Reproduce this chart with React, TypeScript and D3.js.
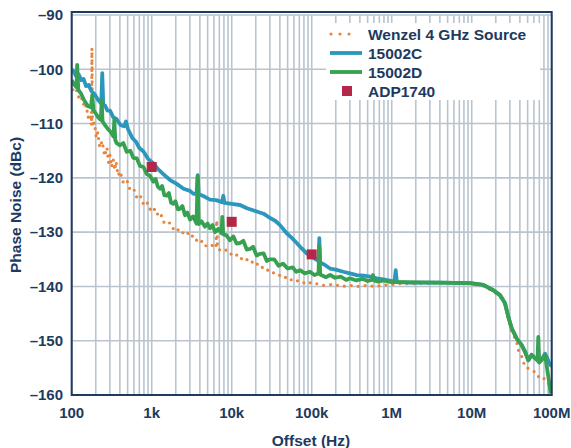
import React from 'react';
import * as d3 from 'd3';

const xTicks = [100, 1e3, 1e4, 1e5, 1e6, 1e7, 1e8];
const xTickLabels = ['100', '1k', '10k', '100k', '1M', '10M', '100M'];
const yTicks = [-90, -100, -110, -120, -130, -140, -150, -160];
const yTickLabels = ['–90', '–100', '–110', '–120', '–130', '–140', '–150', '–160'];

const seriesNames = ['Wenzel 4 GHz Source', '15002C', '15002D', 'ADP1740'];

const wenzel: [number, number][] = [
  [100, -102.5], [104, -103.8], [109, -104.4], [116, -103.9], [126, -105.8], [135, -105.3],
  [145, -107.2], [152, -106.6], [160, -108.9], [168, -108.2], [177, -110.3], [179, -96.1],
  [182, -110.6], [192, -109.8], [203, -112.6], [212, -111.6], [224, -114.4], [240, -113.2],
  [258, -116.0], [276, -114.4], [288, -117.2], [301, -115.8], [315, -118.0], [331, -116.6],
  [345, -118.6], [358, -117.0], [380, -119.6], [402, -118.8], [440, -120.8], [487, -120.3],
  [530, -122.0], [589, -121.8], [650, -123.6], [714, -123.1], [790, -124.9], [866, -124.4],
  [950, -125.8], [1047, -125.3], [1150, -126.8], [1270, -126.3], [1450, -128.5], [1693, -128.3],
  [1950, -129.9], [2258, -129.4], [2600, -130.6], [3011, -130.0], [3500, -131.6], [4016, -131.2],
  [4600, -132.6], [5354, -132.2], [6364, -132.9], [6494, -127.8], [6645, -133], [7140, -133.3],
  [8200, -133.1], [9525, -134.1], [11000, -133.8], [12700, -135.0], [14600, -134.6], [16930, -135.7],
  [19500, -135.3], [22580, -136.6], [26000, -136.4], [30110, -137.5], [36000, -137.5], [44160, -138.5],
  [50000, -138.2], [58880, -139.1], [70000, -138.9], [86600, -139.6], [100000, -139.2], [115500, -139.5],
  [140000, -139.8], [186200, -139.6], [240000, -140.0], [301100, -139.8], [390000, -140.0],
  [487000, -139.8], [620000, -140.0], [785200, -139.8], [1270000, -139.5], [4016000, -139.4],
  [9525000, -139.5], [13960000, -139.9], [18620000, -140.9], [22580000, -141.8], [26080000, -143.3],
  [28680000, -146], [31620000, -148.2], [33110000, -148.9], [36520000, -150.2], [38240000, -151.7],
  [42170000, -152.9], [46370000, -154.8], [56230000, -155.4], [64940000, -156], [68000000, -156.6],
  [78520000, -156.6], [82460000, -157.5], [89900000, -157.8], [97720000, -158.5],
];

const c15002C: [number, number][] = [
  [100, -100], [106, -100.4], [113, -101.2], [122, -100.9], [132, -102.0], [141, -101.8],
  [151, -103.1], [163, -102.9], [176, -104.0], [194, -104.6], [213, -105.6], [234, -106.3],
  [241, -100.7], [248, -106.6], [261, -106.7], [280, -107.6], [301, -107.6], [330, -108.8],
  [365, -109.2], [410, -110.3], [451, -110.5], [477, -109.6], [505, -111.0], [569, -112.6],
  [640, -113.4], [700, -114.5], [785, -115.1], [900, -116.5], [1047, -117.3], [1200, -118.4],
  [1396, -119.3], [1700, -120.4], [2053, -121.1], [2500, -122.0], [3011, -122.4], [3300, -122.9],
  [3631, -123], [3758, -119.5], [3879, -123], [4500, -123.4], [5354, -124], [6400, -124.1],
  [7564, -124.5], [7852, -123.3], [8128, -124.6], [10000, -124.8], [12700, -125], [15500, -125.6],
  [20530, -126.2], [25000, -126.6], [30110, -127.4], [35000, -127.9], [40170, -128.7], [48700, -130.2],
  [56000, -131.0], [64940, -132], [75000, -133.0], [86600, -133.9], [100000, -134.5], [115500, -135.1],
  [121600, -135.3], [124500, -131.1], [127700, -135.6], [145000, -136.0], [169300, -136.7],
  [200000, -136.9], [248300, -137.3], [300000, -137.6], [365200, -137.9], [450000, -138.0],
  [535500, -138.2], [650000, -138.5], [785200, -138.7], [1084000, -139.1], [1122000, -137],
  [1161000, -139.2], [1693000, -139.3], [4016000, -139.3], [9525000, -139.4], [13960000, -139.7],
  [18620000, -140.7], [22580000, -141.6], [26080000, -143.1], [28680000, -145.6], [31620000, -147.7],
  [36520000, -149.6], [42170000, -150.8], [46370000, -152], [51000000, -153.6], [56230000, -152.6],
  [61840000, -153.2], [66450000, -153.6], [69800000, -154], [74990000, -153.5], [82460000, -152.4],
  [88100000, -153.2], [93330000, -154.2], [100000000, -154.7],
];

const c15002D: [number, number][] = [
  [100, -102], [107, -102.8], [115, -103.3], [117, -99.2], [121, -103.8], [131, -104.5],
  [143, -105.7], [160, -106.8], [174, -107], [181, -104.7], [187, -107.5], [201, -108.2],
  [213, -108.8], [231, -109.3], [237, -105.7], [243, -109.6], [261, -110.3], [284, -111],
  [310, -111.6], [333, -112.4], [341, -109.2], [350, -113], [365, -113.6], [402, -114],
  [442, -113.6], [487, -115.2], [540, -115.0], [589, -116.3], [650, -116.4], [714, -117.8],
  [790, -118.0], [866, -119.3], [950, -119.6], [1047, -120.7], [1120, -120.2], [1190, -121.6],
  [1270, -122.0], [1350, -121.5], [1440, -123.2], [1540, -123.3], [1640, -122.8], [1750, -124.6],
  [1862, -124.8], [1980, -124.3], [2120, -125.8], [2258, -125.7], [2420, -125.2], [2608, -126.9],
  [2800, -126.4], [3011, -127.7], [3300, -127.1], [3631, -128.4], [3758, -119.7], [3879, -128.5],
  [4200, -128.0], [4637, -129.0], [5000, -128.4], [5354, -129.3], [5760, -128.7], [6184, -130.0],
  [6800, -129.4], [7458, -130.2], [7631, -127.2], [7831, -130.4], [8600, -130.6], [9525, -131.5],
  [10500, -130.8], [11500, -132.1], [12700, -132.0], [14000, -131.6], [15400, -133.2], [16930, -133.1],
  [18500, -132.7], [20500, -134.3], [22580, -134.0], [25000, -133.9], [27500, -135.3], [30110, -135.0],
  [34000, -135.0], [38500, -136.2], [43780, -135.8], [50000, -136.7], [58000, -136.5], [64000, -137.3],
  [71420, -137.0], [82000, -137.6], [95000, -137.3], [108000, -137.9], [121600, -137.6], [124500, -132.6],
  [127700, -137.8], [150000, -138.3], [170000, -137.9], [195600, -138.4], [230000, -138.2],
  [270000, -138.8], [301100, -138.5], [360000, -138.9], [430000, -138.6], [500000, -139.0],
  [567200, -138.8], [583800, -137.9], [600800, -138.9], [680000, -139.1], [778600, -138.9],
  [1000000, -139.2], [1270000, -139.2], [4016000, -139.3], [9525000, -139.4], [13960000, -139.7],
  [18620000, -140.7], [22580000, -141.6], [26080000, -143.1], [28680000, -145.6], [31620000, -147.7],
  [36520000, -149.6], [42170000, -150.8], [46370000, -152], [51000000, -153.6], [56230000, -152.6],
  [61840000, -153.2], [66450000, -153.6], [68000000, -149.3], [69800000, -154], [74990000, -153.5],
  [82460000, -152.6], [88100000, -155.4], [93330000, -157.8], [97150000, -159.7],
];

const adp1740: [number, number][] = [[1000, -118], [10000, -128.1], [100000, -134.1]];

const W = 571;
const H = 448;
const PL = 71.7, PR = 551.7, PT = 15, PB = 395;
const NAVY = '#1d3a5f';
const GRID = '#b9c4cf';
const ORANGE = '#e8843c';
const BLUE = '#2c97bd';
const GREEN = '#36a151';
const RED = '#b32848';
const FONT = '"Liberation Sans", Arial, Helvetica, sans-serif';

export default function App() {
  const x = d3.scaleLog().domain([100, 1e8]).range([PL, PR]);
  const y = d3.scaleLinear().domain([-160, -90]).range([PB, PT]);
  const line = d3.line<[number, number]>().x(d => x(d[0])).y(d => y(d[1]));

  const minor: number[] = [];
  for (let d = 100; d < 1e8; d *= 10) for (let k = 1; k <= 9; k++) minor.push(k * d);
  minor.push(1e8);

  const legendY = [34, 53, 72, 91];

  return (
    <svg width={W} height={H} style={{ position: 'absolute', left: 0, top: 0, background: '#fff' }} fontFamily={FONT}>
      <defs>
        <clipPath id="plot">
          <rect x={PL} y={PT - 3} width={PR - PL} height={PB - PT + 3} />
        </clipPath>
      </defs>
      {minor.map((v, i) => (
        <line key={'v' + i} x1={x(v)} x2={x(v)} y1={PT} y2={PB} stroke={GRID} strokeWidth={1.6} />
      ))}
      {yTicks.map((v, i) => (
        <line key={'h' + i} x1={PL} x2={PR} y1={y(v)} y2={y(v)} stroke={GRID} strokeWidth={1.6} />
      ))}
      <g clipPath="url(#plot)" fill="none" strokeLinejoin="round">
        <path d={line(wenzel) || ''} stroke={ORANGE} strokeWidth={3.2} strokeLinecap="round" strokeDasharray="0 7" />
        <path d={line(c15002C) || ''} stroke={BLUE} strokeWidth={3.8} />
        <path d={line(c15002D) || ''} stroke={GREEN} strokeWidth={3.8} />
      </g>
      {adp1740.map((d, i) => (
        <rect key={'m' + i} x={x(d[0]) - 5} y={y(d[1]) - 5} width={10} height={10} fill={RED} />
      ))}
      <rect x={326} y={23} width={214} height={77} fill="#fff" />
      <line x1={331} x2={358} y1={legendY[0]} y2={legendY[0]} stroke={ORANGE} strokeWidth={3.2} strokeLinecap="round" strokeDasharray="0 9" />
      <line x1={330} x2={362} y1={legendY[1]} y2={legendY[1]} stroke={BLUE} strokeWidth={3.8} />
      <line x1={330} x2={362} y1={legendY[2]} y2={legendY[2]} stroke={GREEN} strokeWidth={3.8} />
      <rect x={342} y={legendY[3] - 5} width={10} height={10} fill={RED} />
      {seriesNames.map((s, i) => (
        <text key={'l' + i} x={368} y={legendY[i] + 5.5} fontSize={15.5} fontWeight="bold" fill={NAVY}>{s}</text>
      ))}
      <rect x={PL} y={PT - 3} width={PR - PL} height={PB - PT + 3} fill="none" stroke={NAVY} strokeWidth={2} />
      {yTicks.map((v, i) => (
        <text key={'yt' + i} x={63} y={y(v) + 5.3} textAnchor="end" fontSize={15} fontWeight="bold" fill={NAVY}>{yTickLabels[i]}</text>
      ))}
      {xTicks.map((v, i) => (
        <text key={'xt' + i} x={x(v)} y={418} textAnchor="middle" fontSize={15} fontWeight="bold" fill={NAVY}>{xTickLabels[i]}</text>
      ))}
      <text x={311} y={446} textAnchor="middle" fontSize={15.5} fontWeight="bold" fill={NAVY}>Offset (Hz)</text>
      <text transform={`translate(21,205) rotate(-90)`} textAnchor="middle" fontSize={15.5} fontWeight="bold" fill={NAVY}>Phase Noise (dBc)</text>
    </svg>
  );
}
